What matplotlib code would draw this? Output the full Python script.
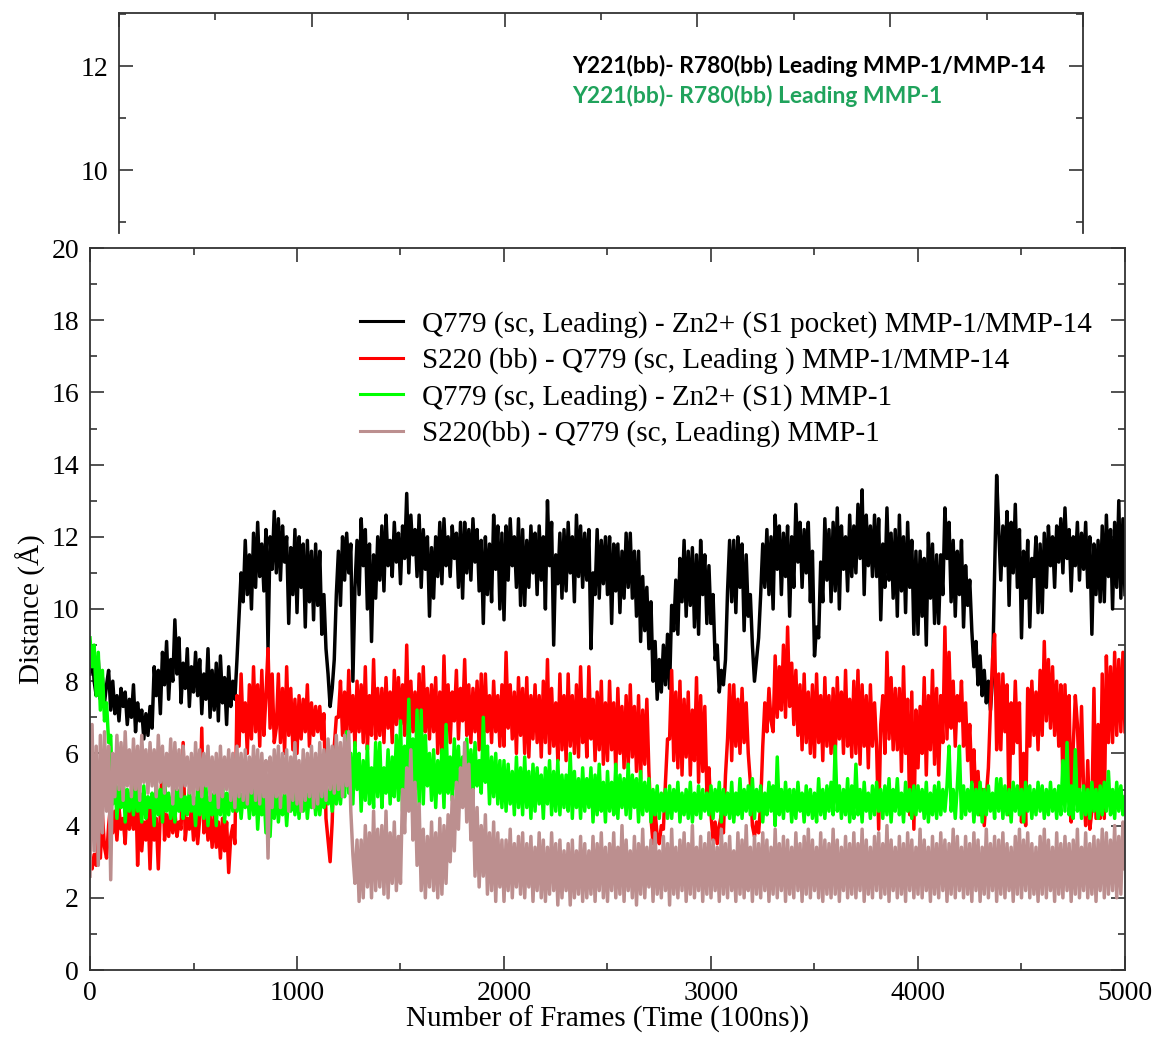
import matplotlib
matplotlib.use("Agg")
import matplotlib.pyplot as plt
from matplotlib.ticker import MultipleLocator

# ---------------- data (one value every 10 frames) ----------------
FRAMES = list(range(0, 5001, 10))

BLACK = [
    8.2, 8.9, 8.0, 7.6, 8.6, 7.5, 8.1, 7.4, 7.9, 8.3,
    7.2, 8.0, 7.1, 7.6, 6.9, 7.8, 7.3, 7.7, 6.8, 7.5,
    7.0, 7.9, 6.6, 7.4, 6.9, 7.2, 6.4, 7.1, 6.5, 7.3,
    6.7, 8.4, 7.6, 8.3, 7.1, 8.8, 7.9, 9.1, 7.5, 8.6,
    8.0, 9.7, 8.2, 9.2, 7.4, 8.5, 7.8, 8.9, 7.3, 8.4,
    7.7, 8.8, 7.6, 8.6, 7.1, 8.2, 7.5, 8.9, 7.0, 8.3,
    7.2, 8.5, 6.9, 8.7, 7.4, 8.1, 6.8, 8.4, 7.3, 8.0,
    7.5, 8.6, 9.8, 11.0, 10.2, 11.9, 10.4, 11.5, 10.0, 12.1,
    10.6, 12.4, 10.9, 11.8, 10.5, 12.2, 8.9, 12.0, 11.1, 12.7,
    11.0, 12.5, 10.8, 12.3, 11.3, 12.0, 9.6, 11.7, 10.4, 12.2,
    9.9, 12.0, 10.6, 11.8, 9.5, 11.9, 10.2, 11.6, 9.7, 11.8,
    10.1, 11.6, 9.3, 10.4, 8.9, 8.2, 7.3, 7.8, 8.6, 10.4,
    11.6, 10.1, 12.0, 10.8, 12.1, 11.0, 11.8, 8.0, 10.6, 11.9,
    10.4, 12.5, 11.2, 12.2, 10.0, 11.8, 9.1, 11.5, 10.3, 12.0,
    10.8, 12.3, 10.5, 12.6, 11.2, 11.9, 10.9, 12.4, 11.3, 12.1,
    10.7, 12.3, 11.4, 13.2, 11.0, 12.6, 11.5, 12.2, 10.9, 12.6,
    10.6, 12.2, 11.1, 12.0, 9.8, 11.7, 10.3, 12.0, 10.9, 12.4,
    10.7, 12.5, 11.2, 12.0, 10.9, 12.3, 11.4, 12.1, 10.6, 12.4,
    10.3, 12.4, 11.0, 12.2, 10.8, 12.5, 11.3, 12.2, 10.5, 11.9,
    9.6, 12.0, 10.4, 11.8, 10.2, 12.6, 11.1, 12.3, 10.0, 12.1,
    9.7, 12.3, 10.8, 12.5, 11.2, 12.0, 10.6, 12.5, 10.1, 12.2,
    10.1, 11.9, 10.6, 12.3, 11.0, 12.1, 10.4, 12.3, 10.8, 12.0,
    10.0, 13.0, 11.2, 12.4, 9.0, 11.5, 10.7, 12.1, 10.3, 12.2,
    10.5, 12.4, 11.0, 12.0, 10.2, 12.6, 10.9, 12.3, 10.6, 12.1,
    10.8, 12.2, 8.9, 11.0, 10.4, 12.2, 10.3, 11.9, 10.7, 12.0,
    10.4, 12.0, 9.6, 11.8, 10.5, 11.8, 9.9, 11.6, 10.3, 12.1,
    10.6, 12.1, 10.3, 11.6, 9.8, 11.6, 9.1, 10.9, 9.4, 10.6,
    8.9, 10.2, 8.0, 9.1, 7.5, 8.6, 7.7, 9.0, 7.9, 9.3,
    7.8, 10.1, 9.4, 10.8, 9.3, 11.4, 10.2, 11.9, 9.8, 11.6,
    10.1, 11.7, 9.5, 11.5, 9.3, 11.9, 10.4, 11.5, 9.6, 11.2,
    9.6, 10.4, 8.6, 9.0, 7.7, 8.3, 7.9, 8.6, 10.5, 11.9,
    10.2, 11.9, 9.9, 12.0, 10.6, 11.8, 9.4, 11.5, 9.8, 10.4,
    9.0, 8.0, 8.6, 9.2, 10.4, 11.8, 10.6, 12.2, 10.4, 12.0,
    10.0, 12.6, 11.1, 12.3, 10.4, 12.1, 10.9, 12.3, 9.8, 12.0,
    10.6, 12.9, 11.3, 12.4, 10.6, 12.2, 11.0, 12.4, 10.2, 11.6,
    8.7, 9.5, 9.2, 11.3, 10.2, 12.5, 10.8, 12.2, 10.2, 12.4,
    10.5, 12.8, 10.0, 12.3, 11.1, 12.0, 10.5, 12.6, 10.9, 12.3,
    11.0, 12.9, 11.4, 13.3, 10.4, 12.6, 11.2, 12.3, 10.9, 12.6,
    10.9, 12.5, 9.7, 11.8, 10.6, 12.8, 10.8, 12.1, 10.3, 12.2,
    9.8, 12.6, 10.5, 12.0, 9.9, 12.4, 10.6, 11.9, 9.3, 11.6,
    9.3, 11.6, 9.8, 11.4, 9.0, 12.1, 10.3, 11.8, 9.6, 11.5,
    9.6, 11.5, 10.4, 12.8, 11.4, 12.4, 10.2, 11.9, 9.8, 11.6,
    10.4, 11.9, 9.5, 11.2, 10.1, 10.8, 9.4, 8.4, 9.1, 7.9,
    8.7, 7.6, 8.3, 7.4, 8.0, 7.2, 8.1, 11.0, 13.7, 12.2,
    10.8, 12.3, 11.2, 12.7, 10.1, 12.4, 11.0, 12.9, 10.6, 12.2,
    9.2, 11.6, 10.3, 11.9, 9.5, 11.4, 10.9, 12.0, 9.9, 11.8,
    9.9, 12.1, 10.6, 12.3, 11.2, 12.0, 10.6, 12.3, 11.3, 12.5,
    11.0, 12.8, 11.4, 12.2, 10.5, 12.0, 11.2, 12.4, 10.8, 12.1,
    11.1, 12.4, 10.6, 12.0, 9.3, 11.8, 10.4, 11.9, 10.2, 12.3,
    10.2, 12.6, 10.9, 12.2, 10.0, 12.4, 10.6, 13.0, 10.3, 12.5,
    10.4]

RED = [
    3.0, 2.8, 3.2, 2.9, 3.6, 3.1, 4.3, 3.4, 3.1, 4.0,
    4.6, 3.8, 4.4, 3.6, 4.5, 3.9, 4.2, 3.5, 4.7, 3.9,
    4.7, 3.9, 5.3, 2.9, 4.4, 3.3, 4.1, 3.6, 4.5, 2.8,
    4.5, 3.6, 4.2, 2.8, 4.4, 5.9, 3.6, 4.3, 3.7, 4.4,
    3.8, 4.4, 3.7, 4.1, 3.9, 6.3, 3.6, 4.2, 3.9, 4.5,
    3.6, 4.5, 3.5, 4.2, 6.7, 3.8, 4.4, 3.6, 4.3, 3.4,
    4.3, 3.4, 4.1, 3.1, 4.2, 3.3, 4.1, 2.7, 3.7, 4.0,
    3.5, 7.6, 6.2, 8.2, 6.6, 7.4, 6.0, 7.9, 6.4, 8.4,
    6.6, 7.9, 6.2, 8.3, 6.5, 7.6, 8.9, 6.7, 8.2, 6.3,
    6.7, 8.2, 6.3, 7.8, 6.0, 8.4, 6.5, 7.8, 6.1, 7.5,
    6.0, 7.6, 6.4, 7.5, 6.6, 7.9, 6.2, 7.4, 6.5, 7.3,
    6.6, 7.3, 6.4, 7.1, 4.2, 3.6, 3.0, 4.1, 6.2, 7.0,
    7.0, 8.0, 6.5, 7.7, 6.4, 8.3, 6.6, 7.6, 6.2, 8.0,
    6.6, 7.9, 6.3, 8.4, 6.1, 7.6, 6.5, 8.6, 6.4, 7.8,
    6.5, 7.8, 6.3, 8.1, 6.7, 7.7, 6.3, 8.3, 6.8, 8.1,
    6.8, 7.9, 6.5, 9.0, 6.4, 8.0, 6.6, 7.7, 6.2, 8.2,
    6.2, 8.4, 6.6, 7.8, 6.4, 7.9, 6.6, 8.1, 6.0, 7.7,
    6.0, 8.7, 6.5, 7.9, 6.3, 7.7, 6.9, 8.3, 6.4, 7.8,
    6.9, 8.6, 6.5, 7.9, 6.3, 7.8, 6.6, 8.0, 6.1, 8.2,
    6.1, 8.2, 6.6, 7.6, 6.3, 8.0, 6.6, 7.6, 6.2, 7.9,
    6.2, 8.8, 6.7, 7.9, 6.4, 7.7, 6.0, 8.1, 6.5, 7.8,
    6.0, 8.1, 5.9, 7.6, 6.4, 7.9, 6.3, 7.6, 5.9, 8.0,
    6.3, 8.6, 6.0, 7.8, 6.2, 7.4, 5.8, 8.2, 6.1, 7.6,
    5.8, 8.2, 6.2, 7.6, 6.0, 7.9, 5.9, 8.4, 6.3, 7.5,
    5.9, 8.4, 6.4, 7.5, 5.8, 7.7, 6.1, 8.0, 5.7, 7.4,
    5.8, 8.0, 6.1, 7.4, 5.5, 7.8, 6.0, 7.3, 5.6, 7.6,
    5.6, 7.9, 5.9, 7.3, 5.5, 7.6, 5.3, 7.2, 5.7, 7.5,
    5.5, 4.2, 3.5, 4.4, 3.7, 3.5, 4.0, 3.9, 5.2, 6.4,
    6.4, 8.3, 5.8, 7.7, 5.6, 8.0, 5.4, 7.5, 5.9, 7.7,
    5.4, 7.2, 5.8, 8.1, 5.2, 7.6, 5.5, 7.3, 4.9, 5.6,
    4.3, 3.6, 4.1, 3.5, 4.0, 4.3, 3.8, 5.4, 6.4, 7.9,
    5.8, 7.9, 6.2, 7.5, 6.0, 7.8, 6.3, 7.4, 6.0, 5.2,
    4.0, 3.7, 4.1, 3.8, 4.6, 6.2, 7.4, 6.6, 7.8, 6.9,
    6.6, 8.7, 7.0, 8.4, 7.2, 9.0, 7.0, 9.5, 7.3, 8.5,
    6.8, 8.3, 6.5, 7.9, 6.1, 8.2, 6.3, 7.7, 6.0, 7.9,
    5.9, 8.2, 6.3, 7.6, 5.8, 8.1, 6.2, 7.6, 6.0, 7.8,
    5.8, 8.1, 6.4, 7.7, 6.0, 8.3, 6.2, 7.5, 5.9, 8.0,
    6.0, 8.3, 5.7, 7.9, 6.2, 7.6, 5.6, 7.9, 6.2, 7.4,
    6.2, 3.9, 6.8, 7.6, 6.0, 8.8, 6.4, 8.1, 6.1, 7.8,
    6.1, 7.8, 5.5, 8.4, 6.0, 7.5, 4.3, 7.7, 3.9, 7.2,
    5.6, 7.3, 6.0, 8.1, 5.4, 7.6, 6.1, 8.3, 5.7, 7.8,
    5.4, 7.6, 6.3, 9.5, 6.4, 8.8, 6.7, 8.0, 6.2, 7.6,
    6.9, 8.0, 6.2, 7.4, 5.8, 6.8, 5.2, 6.1, 4.6, 5.5,
    4.3, 5.0, 4.0, 4.8, 5.6, 7.2, 8.6, 9.3, 6.1, 8.2,
    6.1, 8.2, 6.6, 7.9, 4.3, 7.4, 6.0, 8.0, 6.3, 7.4,
    4.1, 6.0, 4.0, 7.8, 6.2, 8.0, 6.5, 7.7, 6.1, 8.3,
    6.5, 9.1, 6.9, 8.6, 6.7, 8.4, 6.5, 8.0, 6.2, 7.9,
    5.2, 7.9, 6.0, 7.6, 4.1, 6.2, 7.6, 6.8, 5.0, 7.3,
    5.0, 4.0, 5.8, 3.9, 4.4, 7.8, 4.2, 6.8, 4.2, 8.2,
    4.2, 8.7, 6.3, 8.4, 6.3, 8.8, 6.5, 8.6, 6.6, 8.8,
    6.6]

GREEN = [
    9.2, 8.4, 9.0, 7.6, 8.8, 7.2, 8.3, 6.9, 7.4, 6.3,
    6.5, 4.6, 5.3, 4.2, 5.1, 4.5, 5.4, 4.1, 5.0, 4.4,
    5.0, 4.3, 5.2, 4.4, 4.9, 4.1, 5.1, 4.2, 4.8, 4.5,
    4.9, 4.0, 5.2, 4.3, 5.0, 4.1, 5.3, 4.4, 4.9, 4.2,
    4.9, 4.1, 5.0, 4.4, 5.1, 4.2, 4.8, 4.3, 5.0, 4.4,
    4.8, 4.0, 5.1, 4.3, 4.9, 4.2, 5.1, 4.0, 4.8, 4.3,
    4.9, 4.0, 5.0, 4.3, 5.2, 4.1, 4.9, 4.3, 5.1, 4.4,
    5.2, 4.4, 5.0, 4.2, 4.9, 4.5, 5.1, 4.2, 5.3, 4.3,
    5.3, 3.9, 4.9, 4.3, 5.0, 3.8, 4.8, 3.7, 5.1, 4.2,
    5.1, 4.1, 4.8, 4.3, 5.0, 4.0, 4.9, 4.4, 5.2, 4.3,
    5.0, 4.2, 5.3, 4.4, 5.1, 4.2, 4.9, 4.5, 5.2, 4.3,
    5.1, 4.3, 4.9, 4.5, 5.3, 4.6, 5.0, 4.4, 5.2, 4.6,
    5.3, 4.6, 5.4, 4.8, 6.6, 4.9, 6.0, 4.6, 6.3, 5.0,
    6.0, 4.4, 5.8, 4.7, 6.2, 4.6, 5.6, 4.5, 6.3, 4.8,
    6.3, 4.5, 5.6, 4.9, 6.1, 4.6, 5.9, 4.8, 6.5, 4.7,
    6.9, 4.4, 6.2, 5.0, 7.5, 4.8, 6.4, 5.0, 7.2, 4.6,
    7.2, 4.6, 6.5, 5.1, 6.0, 4.7, 6.1, 4.5, 5.8, 4.9,
    6.1, 4.5, 6.8, 4.9, 5.9, 4.7, 6.4, 5.0, 6.2, 4.8,
    5.9, 4.7, 6.4, 5.0, 6.1, 4.8, 6.3, 5.1, 5.8, 4.9,
    7.0, 5.2, 6.2, 4.6, 5.9, 4.8, 6.0, 4.6, 5.8, 4.5,
    5.8, 4.4, 5.7, 4.6, 5.5, 4.3, 5.9, 4.5, 5.6, 4.3,
    5.9, 4.5, 5.5, 4.2, 5.7, 4.4, 5.6, 4.6, 5.4, 4.2,
    5.6, 4.6, 5.8, 4.3, 5.5, 4.4, 5.8, 4.3, 5.4, 4.5,
    5.4, 4.4, 6.0, 4.2, 5.5, 4.5, 5.3, 4.2, 5.6, 4.4,
    5.3, 4.5, 5.6, 4.1, 5.4, 4.3, 5.7, 4.4, 5.2, 4.1,
    5.5, 4.4, 5.2, 4.3, 5.7, 4.2, 5.4, 4.5, 5.3, 4.3,
    5.7, 4.2, 5.4, 4.5, 5.3, 4.1, 5.5, 4.3, 5.2, 4.4,
    5.3, 4.1, 5.0, 4.3, 5.1, 4.2, 4.9, 4.4, 5.0, 4.2,
    5.1, 4.2, 5.0, 4.4, 5.2, 4.1, 4.9, 4.3, 5.0, 4.2,
    5.2, 4.1, 4.9, 4.3, 5.1, 4.2, 5.0, 4.4, 4.9, 4.3,
    5.1, 4.2, 5.0, 4.4, 5.2, 4.1, 5.0, 4.3, 4.9, 4.2,
    5.2, 4.1, 4.9, 4.3, 5.3, 4.2, 5.0, 4.4, 5.1, 4.3,
    5.3, 4.2, 5.0, 4.4, 5.1, 4.1, 4.9, 4.3, 5.2, 4.4,
    5.1, 4.0, 5.9, 4.3, 5.0, 4.2, 5.2, 4.4, 5.0, 4.1,
    5.0, 4.2, 5.2, 4.4, 4.9, 4.1, 5.1, 4.3, 5.0, 4.2,
    4.9, 4.1, 5.3, 4.3, 5.0, 4.2, 5.1, 4.4, 5.2, 4.3,
    6.2, 4.4, 5.1, 4.2, 5.0, 4.3, 5.3, 4.1, 5.1, 4.2,
    5.7, 4.3, 5.0, 4.1, 5.2, 4.4, 4.9, 4.2, 5.1, 4.3,
    5.2, 4.4, 5.0, 4.2, 5.1, 4.3, 5.3, 4.1, 5.0, 4.4,
    5.3, 4.3, 4.9, 4.1, 5.2, 4.4, 5.0, 4.2, 5.1, 4.3,
    5.1, 4.4, 5.0, 4.2, 5.2, 4.1, 4.9, 4.3, 5.1, 4.2,
    5.2, 4.3, 5.0, 4.4, 5.1, 6.2, 4.4, 5.0, 4.2, 5.1,
    6.2, 4.2, 5.1, 4.3, 5.0, 4.4, 5.2, 4.1, 5.0, 4.3,
    5.2, 4.1, 5.0, 4.3, 5.1, 4.4, 4.9, 4.2, 5.3, 4.4,
    5.3, 4.2, 5.1, 4.3, 5.0, 4.1, 5.2, 4.4, 5.1, 4.3,
    5.0, 4.1, 5.2, 4.4, 5.1, 4.2, 5.0, 4.3, 5.2, 4.4,
    5.1, 4.2, 5.0, 4.3, 5.2, 4.4, 5.0, 4.2, 5.1, 4.3,
    5.8, 4.4, 6.3, 4.3, 5.1, 4.2, 6.1, 4.4, 5.0, 4.2,
    5.1, 4.3, 5.0, 4.2, 5.2, 4.4, 5.0, 4.2, 5.1, 4.3,
    5.2, 4.4, 5.5, 4.3, 5.0, 4.2, 5.2, 4.4, 5.1, 4.3,
    4.8]

BROWN = [
    2.6, 6.8, 3.3, 6.2, 2.9, 6.5, 3.8, 6.6, 4.4, 6.2,
    2.5, 6.0, 4.8, 6.5, 5.0, 6.3, 4.7, 6.6, 5.1, 6.1,
    4.8, 6.4, 5.0, 6.2, 4.7, 6.5, 5.2, 6.1, 4.9, 6.3,
    5.1, 6.1, 4.8, 6.5, 5.2, 6.2, 4.9, 6.0, 5.1, 6.4,
    4.6, 6.3, 5.0, 6.1, 4.8, 6.2, 5.1, 5.9, 4.9, 6.0,
    4.6, 6.3, 5.0, 6.1, 4.8, 6.0, 5.1, 6.2, 4.7, 5.9,
    4.9, 6.0, 4.5, 6.2, 4.8, 5.9, 5.0, 6.1, 4.7, 6.0,
    4.5, 6.2, 4.8, 6.0, 4.7, 6.1, 4.6, 5.9, 4.9, 6.2,
    4.7, 6.1, 4.6, 6.0, 4.8, 5.8, 3.1, 5.9, 4.5, 6.1,
    4.8, 6.2, 4.5, 6.0, 4.9, 6.1, 4.4, 5.9, 4.7, 6.3,
    4.6, 5.8, 4.4, 6.1, 4.7, 6.0, 4.8, 6.2, 4.5, 6.0,
    4.6, 6.3, 4.8, 6.1, 4.7, 6.4, 5.0, 6.2, 4.9, 6.5,
    5.0, 6.3, 4.8, 6.5, 5.1, 6.6, 4.4, 3.2, 2.4, 3.6,
    1.9, 3.6, 2.0, 4.0, 2.3, 3.8, 2.0, 4.4, 2.2, 3.9,
    2.3, 4.0, 2.1, 4.4, 2.0, 3.8, 2.4, 4.1, 2.2, 3.7,
    2.4, 5.0, 3.8, 5.6, 4.4, 6.1, 3.6, 5.2, 2.9, 4.6,
    2.2, 3.9, 2.0, 3.7, 2.3, 4.1, 2.2, 3.8, 2.0, 4.2,
    2.1, 4.0, 2.4, 4.3, 3.0, 4.8, 3.3, 5.2, 3.9, 5.6,
    4.5, 6.3, 4.1, 5.7, 3.6, 5.0, 2.6, 4.5, 2.3, 4.0,
    2.6, 4.3, 2.1, 3.8, 2.2, 4.1, 1.9, 3.8, 2.3, 3.6,
    1.9, 3.6, 2.2, 3.9, 2.0, 3.5, 2.3, 3.7, 2.1, 3.8,
    2.0, 3.5, 2.3, 3.7, 1.9, 3.4, 2.2, 3.8, 2.0, 3.6,
    1.9, 3.4, 2.1, 3.8, 2.2, 3.5, 1.8, 3.6, 2.0, 3.3,
    2.2, 3.5, 1.8, 3.6, 2.0, 3.3, 2.1, 3.7, 1.9, 3.5,
    2.0, 3.3, 2.1, 3.7, 1.9, 3.5, 2.2, 3.8, 2.0, 3.4,
    1.9, 3.5, 2.2, 3.8, 2.0, 3.4, 2.1, 4.0, 1.9, 3.6,
    2.2, 3.3, 2.0, 3.7, 1.8, 3.5, 2.1, 3.9, 2.0, 3.4,
    2.3, 3.6, 1.9, 3.8, 2.1, 3.3, 2.0, 3.7, 2.2, 3.5,
    1.8, 3.9, 2.1, 3.4, 2.0, 3.6, 2.2, 3.8, 1.9, 3.5,
    2.1, 4.0, 2.0, 3.4, 2.2, 3.7, 1.9, 3.5, 2.1, 3.8,
    2.0, 3.6, 2.2, 3.4, 1.9, 3.9, 2.1, 3.5, 2.0, 3.7,
    2.2, 3.3, 1.9, 3.8, 2.1, 3.6, 2.0, 4.0, 2.2, 3.4,
    1.9, 3.7, 2.1, 3.5, 2.0, 3.8, 2.2, 3.6, 1.9, 3.4,
    2.1, 3.9, 2.0, 3.5, 2.2, 3.7, 1.9, 3.6, 2.1, 3.4,
    2.0, 3.8, 2.2, 3.5, 1.9, 3.7, 2.1, 3.9, 2.0, 3.6,
    2.2, 3.4, 2.0, 3.8, 1.9, 3.6, 2.1, 3.5, 2.0, 3.9,
    2.1, 3.6, 1.9, 3.4, 2.2, 3.7, 2.0, 3.5, 2.1, 3.8,
    2.0, 3.5, 2.2, 3.9, 1.9, 3.6, 2.1, 3.4, 2.0, 3.7,
    2.2, 3.8, 2.0, 3.5, 2.1, 4.0, 1.9, 3.6, 2.2, 3.4,
    2.0, 3.7, 2.1, 3.5, 1.9, 3.8, 2.2, 3.6, 2.0, 3.4,
    2.1, 3.9, 2.0, 3.6, 2.2, 3.4, 1.9, 3.7, 2.1, 3.5,
    2.0, 3.8, 2.2, 3.6, 1.9, 3.5, 2.1, 3.9, 2.0, 3.7,
    2.2, 3.4, 2.0, 3.7, 2.1, 3.5, 1.9, 3.8, 2.2, 3.6,
    1.9, 3.4, 2.1, 3.9, 2.0, 3.5, 2.2, 3.7, 1.9, 3.6,
    2.1, 3.8, 2.0, 3.5, 2.2, 3.4, 1.9, 3.7, 2.1, 3.9,
    2.0, 3.6, 2.2, 3.8, 2.0, 3.5, 2.1, 3.4, 1.9, 3.7,
    2.1, 3.9, 2.0, 3.6, 2.2, 3.4, 1.9, 3.8, 2.1, 3.5,
    2.0, 3.7, 2.2, 3.5, 1.9, 3.6, 2.1, 3.9, 2.0, 3.4,
    2.2, 3.8, 2.0, 3.5, 2.1, 3.7, 1.9, 3.6, 2.2, 3.9,
    2.0, 3.8, 2.1, 3.6, 2.2, 4.0, 2.0, 3.7, 2.1, 4.1,
    2.8]

LABELS = ["Q779 (sc, Leading) - Zn2+ (S1 pocket) MMP-1/MMP-14",
          "S220 (bb) - Q779 (sc, Leading ) MMP-1/MMP-14",
          "Q779 (sc, Leading) - Zn2+ (S1) MMP-1",
          "S220(bb) - Q779 (sc, Leading) MMP-1"]
COLORS = ["#000000", "#ff0000", "#00ff00", "#bc8f8f"]
TOP_LABELS = ["Y221(bb)- R780(bb) Leading MMP-1/MMP-14",
              "Y221(bb)- R780(bb) Leading MMP-1"]
TOP_COLORS = ["#000000", "#20a35c"]

# ---------------- figure ----------------
W, H = 1158, 1037
fig = plt.figure(figsize=(W / 100, H / 100), dpi=100)
SERIF = ["Liberation Serif", "DejaVu Serif"]


def px_rect(x0, y0, x1, y1):
    return [x0 / W, 1 - y1 / H, (x1 - x0) / W, (y1 - y0) / H]


def style_axes(ax):
    for s in ax.spines.values():
        s.set_linewidth(1.3)
        s.set_color("#333333")
    ax.tick_params(which="both", direction="in", top=True, right=True,
                   width=1.2, color="#333333")
    ax.tick_params(which="major", length=10)
    ax.tick_params(which="minor", length=5)


# ---- top (partially hidden) panel ----
axt = fig.add_axes(px_rect(119, 13, 1083, 233))
axt.set_xlim(0, 5000)
axt.set_ylim(8.79, 13.02)
style_axes(axt)
axt.spines["bottom"].set_visible(False)
axt.xaxis.set_major_locator(MultipleLocator(1000))
axt.xaxis.set_minor_locator(MultipleLocator(500))
axt.yaxis.set_major_locator(MultipleLocator(2))
axt.yaxis.set_minor_locator(MultipleLocator(1))
axt.tick_params(axis="x", bottom=False, which="both", labelbottom=False)
axt.tick_params(axis="y", labelsize=20, pad=8)
for lab in axt.get_yticklabels():
    lab.set_family(SERIF)
for i, (t, c) in enumerate(zip(TOP_LABELS, TOP_COLORS)):
    fig.text(572 / W, 1 - (66 + 30 * i) / H, t, color=c, fontsize=16.5,
             fontweight="bold", family=["Lato", "DejaVu Sans"],
             ha="left", va="center")

# ---- main panel ----
ax = fig.add_axes(px_rect(90, 248, 1125, 970))
for y, c, lab in zip([BLACK, RED, GREEN, BROWN], COLORS, LABELS):
    ax.plot(FRAMES[:len(y)], y, color=c, lw=2.5, label=lab,
            solid_joinstyle="round")
ax.set_xlim(0, 5000)
ax.set_ylim(0, 20)
style_axes(ax)
ax.xaxis.set_major_locator(MultipleLocator(1000))
ax.xaxis.set_minor_locator(MultipleLocator(500))
ax.yaxis.set_major_locator(MultipleLocator(2))
ax.yaxis.set_minor_locator(MultipleLocator(1))
ax.tick_params(axis="both", labelsize=20)
ax.tick_params(axis="x", pad=8)
ax.tick_params(axis="y", pad=8)
for lab in ax.get_xticklabels() + ax.get_yticklabels():
    lab.set_family(SERIF)
ax.set_xlabel("Number of Frames (Time (100ns))", fontsize=21, family=SERIF,
              labelpad=0)
ax.set_ylabel("Distance (Å)", fontsize=21, family=SERIF, labelpad=4)

leg = ax.legend(loc="upper left", bbox_to_anchor=(0.2493, 0.9294),
                frameon=False, prop={"family": SERIF, "size": 21},
                handlelength=1.47, handletextpad=0.68, labelspacing=0.33,
                borderaxespad=0)
for h in leg.get_lines():
    h.set_linewidth(2.2)

fig.savefig("out.png", dpi=100)
